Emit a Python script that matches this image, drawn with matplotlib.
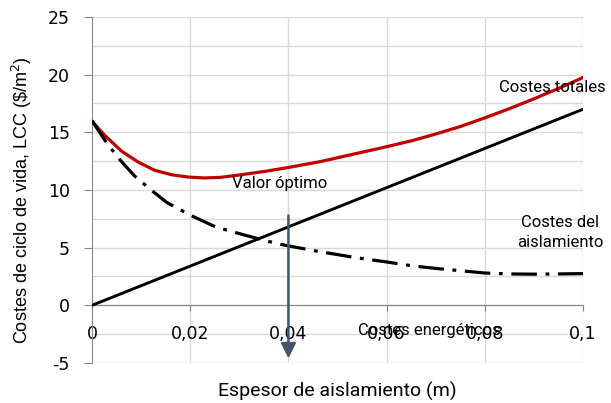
import numpy as np
import matplotlib
matplotlib.use("Agg")
import matplotlib.pyplot as plt


# espesor de aislamiento (m) y costes ($/m2)
espesor_tot = [0, 0.0026, 0.006, 0.0094, 0.0128, 0.0162, 0.0196, 0.0229,
               0.0263, 0.03, 0.035, 0.0396, 0.0464, 0.0532, 0.06, 0.0654,
               0.07, 0.075, 0.08, 0.085, 0.09, 0.095, 0.1]
costes_totales = [15.95, 14.73, 13.37, 12.42, 11.7, 11.32, 11.12, 11.04,
                  11.1, 11.3, 11.6, 11.92, 12.45, 13.1, 13.75, 14.3,
                  14.85, 15.5, 16.25, 17.05, 17.9, 18.8, 19.75]
espesor_ene = [0, 0.0031, 0.0058, 0.0087, 0.0121, 0.0153, 0.0202, 0.0252,
               0.0281, 0.0336, 0.0383, 0.0457, 0.0539, 0.06, 0.0654, 0.07,
               0.075, 0.08, 0.085, 0.09, 0.095, 0.1]
costes_energeticos = [16.0, 14.0, 12.56, 11.2, 9.97, 8.9, 7.78, 6.79,
                      6.44, 5.8, 5.29, 4.7, 4.12, 3.76, 3.41, 3.2,
                      3.0, 2.8, 2.72, 2.7, 2.72, 2.75]
espesor_aisl = [0, 0.1]
costes_aislamiento = [0, 17.0]

optimo_x = 0.04
optimo_y = [7.8, -4.6]

xticks = [0, 0.02, 0.04, 0.06, 0.08, 0.1]
xtick_labels = ["0", "0,02", "0,04", "0,06", "0,08", "0,1"]
yticks = [-5, 0, 5, 10, 15, 20, 25]

plt.rcParams['font.family'] = ['DejaVu Sans']
plt.rcParams['axes.unicode_minus'] = False

fig = plt.figure(figsize=(6.11, 4.03), dpi=100)
ax = fig.add_axes([0.1506, 0.0993, 0.8036, 0.8586])

# grid
grid_c = "#d9d9d9"
for y in np.arange(-5, 25.1, 2.5):
    ax.axhline(y, color=grid_c, lw=1, zorder=0)
for x in xticks[1:]:
    ax.axvline(x, color=grid_c, lw=1, zorder=0)

ax.plot(espesor_tot, costes_totales, color="#c00000", lw=2.3, zorder=3,
        solid_joinstyle="round")
ax.plot(espesor_aisl, costes_aislamiento, color="black", lw=2.1, zorder=3)
ax.plot(espesor_ene, costes_energeticos, color="black", lw=2.3,
        dashes=(8, 2.7, 1.2, 2.7), zorder=3)

ax.annotate("", xy=(optimo_x, optimo_y[1]), xytext=(optimo_x, optimo_y[0]),
            arrowprops=dict(arrowstyle="-|>,head_length=0.9,head_width=0.45",
                            color="#44546a", lw=1.8, shrinkA=0, shrinkB=0),
            zorder=4)

ax.set_xlim(0, 0.1)
ax.set_ylim(-5, 25)
ax.set_xticks(xticks)
ax.set_xticklabels(xtick_labels)
ax.set_yticks(yticks)

for s in ["top", "right"]:
    ax.spines[s].set_visible(False)
ax.spines["bottom"].set_position(("data", 0))
ax.spines["bottom"].set_color("#868686")
ax.spines["left"].set_color("#868686")
ax.tick_params(axis="x", length=4, color="#868686", pad=10.5, labelsize=12.5)
ax.tick_params(axis="y", length=6, color="#868686", pad=10, labelsize=12.5)

fig.text(22 / 611, 0.504, "Costes de ciclo de vida, LCC (\\$/m$^2$)",
         fontsize=13, rotation=90, ha="center", va="center",
         family=["Liberation Sans", "DejaVu Sans"])
fig.text(337 / 611, 1 - 391 / 403, "Espesor de aislamiento (m)", fontsize=14,
         ha="center", va="center", family=["Roboto", "DejaVu Sans"])

lab = dict(fontsize=12, family=["Roboto", "DejaVu Sans"], zorder=5)
ax.text(0.0285, 10.57, "Valor óptimo", ha="left", va="center", **lab)
ax.text(0.0829, 18.9, "Costes totales", ha="left", va="center",
        clip_on=False, **lab)
ax.text(0.0953, 6.3, "Costes del\naislamiento", ha="center", va="center",
        linespacing=1.4, clip_on=False, **lab)
ax.text(0.0688, -2.17, "Costes energéticos", ha="center", va="center", **lab)

fig.savefig("out.png", dpi=100)
